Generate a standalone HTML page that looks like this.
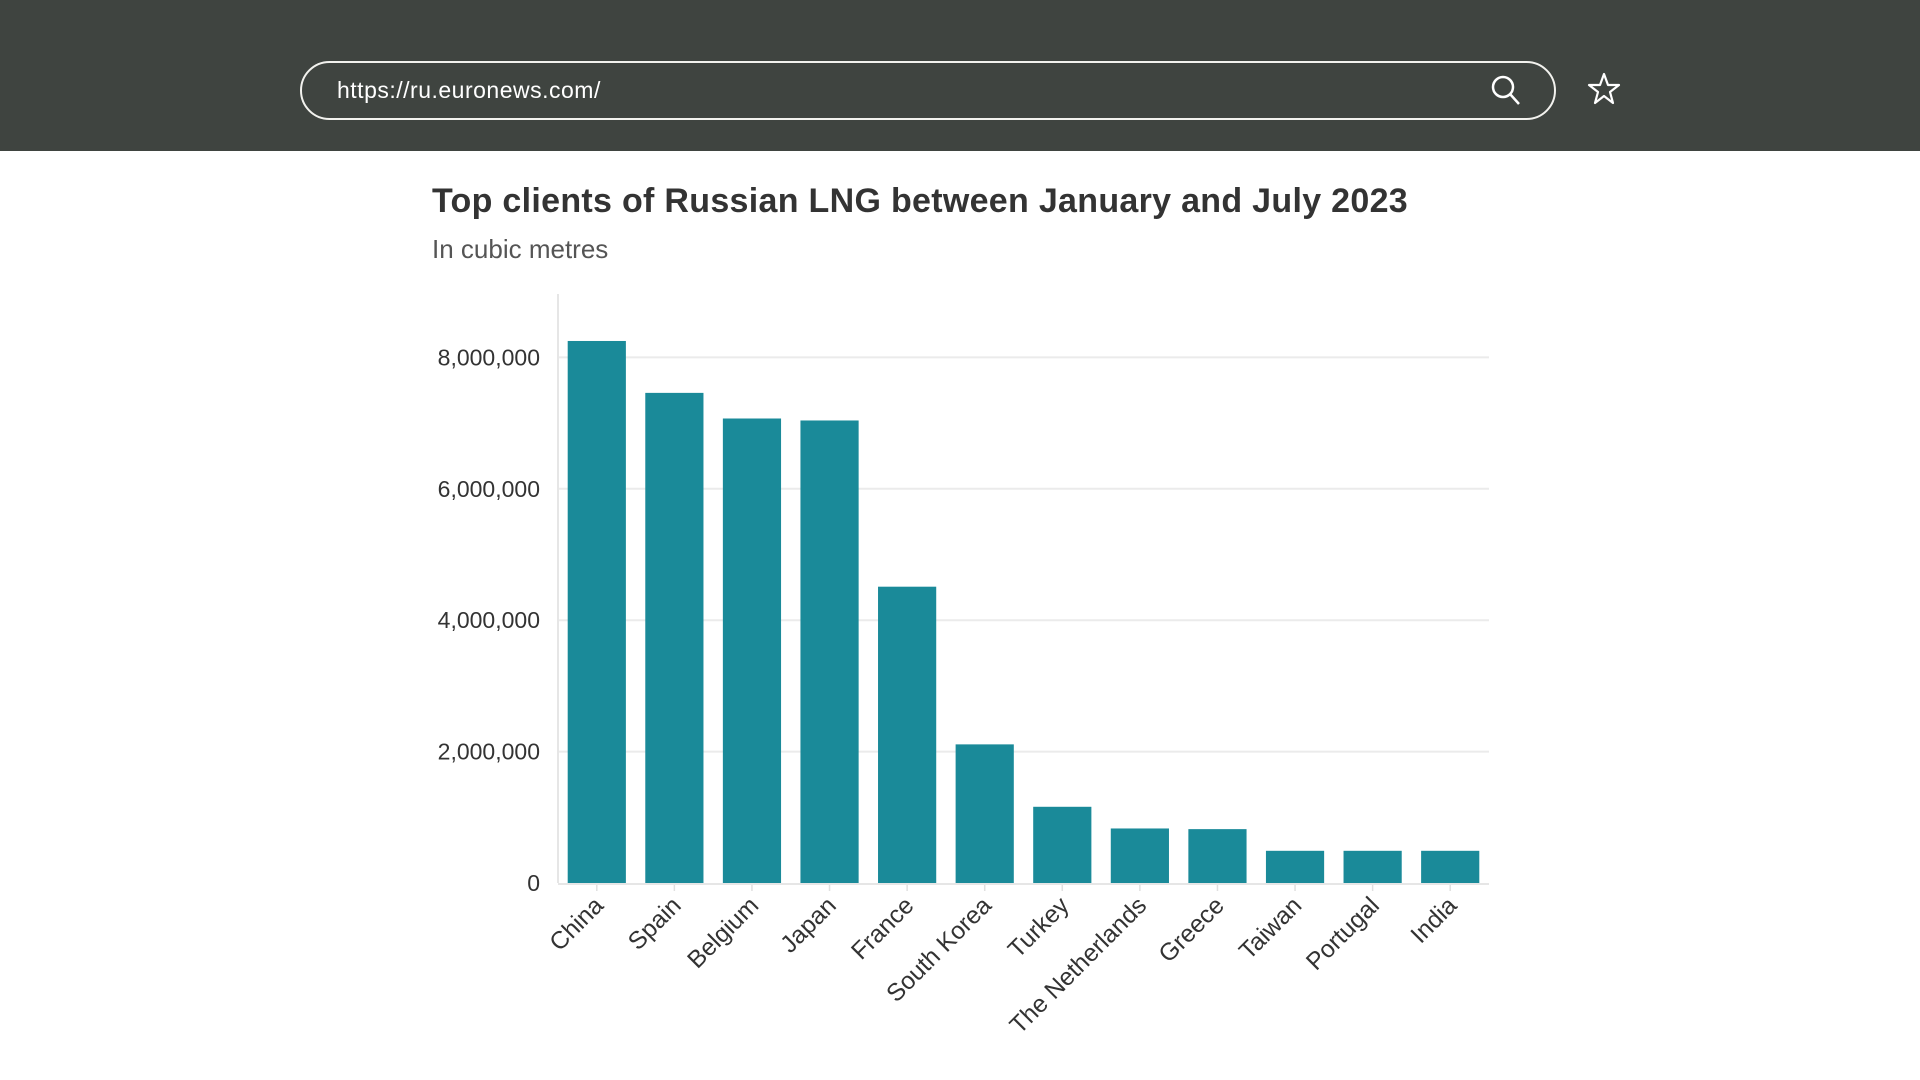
<!DOCTYPE html>
<html><head><meta charset="utf-8"><style>
html,body{margin:0;padding:0;width:1920px;height:1080px;background:#fff;overflow:hidden;font-family:"Liberation Sans",sans-serif}
#topbar{position:absolute;left:0;top:0;width:1920px;height:151px;background:#3f4440}
#url{position:absolute;left:300px;top:61px;width:1252px;height:55px;border:2px solid #f2f2ee;border-radius:30px}
#urltext{position:absolute;left:35px;top:14px;color:#fff;font-size:23px;letter-spacing:0.5px}
#title{position:absolute;left:432px;top:182px;font-size:34px;font-weight:bold;color:#333;letter-spacing:0.3px}
#sub{position:absolute;left:432px;top:234px;font-size:26px;color:#555}
</style></head><body>
<div id="topbar">
 <div id="url"><span id="urltext">https://ru.euronews.com/</span>
  <svg style="position:absolute;left:1188px;top:12px" width="32" height="32"><circle cx="13" cy="12" r="10" fill="none" stroke="#fff" stroke-width="2.5"/><line x1="20" y1="19" x2="29" y2="29" stroke="#fff" stroke-width="2.5"/></svg>
 </div>
 <svg style="position:absolute;left:1586px;top:71px" width="36" height="36"><polygon points="18,3 22,14 33,14 24,21 27,32 18,25 9,32 12,21 3,14 14,14" fill="none" stroke="#fff" stroke-width="2.2" stroke-linejoin="round"/></svg>
</div>
<div id="title">Top clients of Russian LNG between January and July 2023</div>
<div id="sub">In cubic metres</div>
<svg id="chart" width="1920" height="1080" style="position:absolute;left:0;top:0"></svg>
<script>
const categories=["China","Spain","Belgium","Japan","France","South Korea","Turkey","The Netherlands","Greece","Taiwan","Portugal","India"];
const values=[8250000,7460000,7070000,7040000,4510000,2110000,1160000,830000,820000,490000,490000,490000];
const yTicks=[0,2000000,4000000,6000000,8000000];
const yTickLabels=["0","2,000,000","4,000,000","6,000,000","8,000,000"];
const svg=document.getElementById('chart');const NS='http://www.w3.org/2000/svg';
const x0=558,x1=1489,y0=883,yPer=131.4/2000000;
const band=(x1-x0)/categories.length;
const y=v=>y0-v*yPer;
const xc=i=>x0+band*(i+0.5);
function mk(t,a){const e=document.createElementNS(NS,t);for(const k in a)e.setAttribute(k,a[k]);svg.appendChild(e);return e;}
yTicks.forEach((t,i)=>{
 if(t>0){const g=mk('line',{x1:x0,x2:x1,y1:y(t),y2:y(t),stroke:'#ebebeb','stroke-width':2});
 
 }
 const l=mk('text',{x:540,y:y(t)+8,'text-anchor':'end','font-size':23,fill:'#333','font-family':'Liberation Sans, sans-serif'});
 l.textContent=yTickLabels[i];
 
 
});
const ax=mk('line',{x1:x0,x2:x0,y1:294,y2:y0,stroke:'#e6e6e6','stroke-width':2});


const bx=mk('line',{x1:x0,x2:x1,y1:y0+1,y2:y0+1,stroke:'#e6e6e6','stroke-width':2});


categories.forEach((c,i)=>{
 const w=band*0.75;
 const r=mk('rect',{x:xc(i)-w/2,y:y(values[i]),width:w,height:y0-y(values[i]),fill:'#1a8a99'});
 
 
 const tk=mk('line',{x1:xc(i),x2:xc(i),y1:y0+2,y2:y0+8,stroke:'#e0e0e0','stroke-width':1.5});
 
 
 const t=mk('text',{x:xc(i)+8,y:y0+24,'text-anchor':'end','font-size':24.5,fill:'#333','font-family':'Liberation Sans, sans-serif',transform:`rotate(-45 ${xc(i)+8} ${y0+24})`});
 t.textContent=c;
 
 
});
</script>
</body></html>
